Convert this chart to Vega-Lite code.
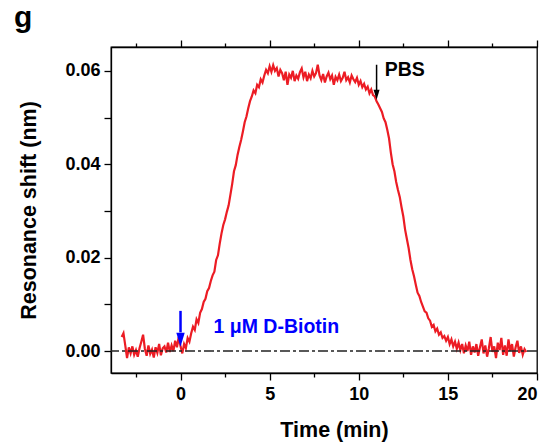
{
  "$schema": "https://vega.github.io/schema/vega-lite/v6.json",
  "width": 426,
  "height": 326,
  "autosize": {"type": "none"},
  "padding": {"left": 111, "top": 47, "right": 15, "bottom": 75},
  "title": {"text": "g", "anchor": "start", "frame": "group", "fontSize": 30, "fontWeight": "bold", "font": "Liberation Sans", "dx": -97, "dy": 18, "offset": 0, "baseline": "alphabetic", "color": "black"},
  "config": {
    "view": {"stroke": "black", "strokeWidth": 1.3},
    "axis": {
      "domainColor": "black", "domainWidth": 1.3, "tickColor": "black", "tickWidth": 1.3, "tickSize": 7,
      "labelFont": "Liberation Sans", "labelFontWeight": "bold", "labelFontSize": 18, "labelColor": "black",
      "titleFont": "Liberation Sans", "titleFontWeight": "bold", "titleFontSize": 21.5, "titleColor": "black",
      "grid": false, "labelOverlap": false
    }
  },
  "datasets": {
    "curve": [
      {"t":-3.3,"v":0.0030},{"t":-3.2,"v":0.0038},{"t":-3.1,"v":0.0012},{"t":-3.0,"v":-0.0015},{"t":-2.9,"v":0.0008},
      {"t":-2.8,"v":-0.0005},{"t":-2.7,"v":0.0010},{"t":-2.6,"v":-0.0008},{"t":-2.5,"v":0.0002},{"t":-2.4,"v":-0.0012},
      {"t":-2.3,"v":0.0006},{"t":-2.2,"v":0.0020},{"t":-2.1,"v":0.0035},{"t":-2.0,"v":0.0005},{"t":-1.9,"v":-0.0010},
      {"t":-1.8,"v":0.0012},{"t":-1.7,"v":-0.0006},{"t":-1.6,"v":0.0003},{"t":-1.5,"v":-0.0014},{"t":-1.4,"v":0.0008},
      {"t":-1.3,"v":-0.0004},{"t":-1.2,"v":0.0015},{"t":-1.1,"v":-0.0009},{"t":-1.0,"v":0.0006},{"t":-0.9,"v":0.0010},
      {"t":-0.8,"v":-0.0003},{"t":-0.7,"v":0.0018},{"t":-0.6,"v":-0.0002},{"t":-0.5,"v":0.0012},{"t":-0.4,"v":0.0000},
      {"t":-0.3,"v":0.0022},{"t":-0.2,"v":0.0008},{"t":-0.1,"v":0.0030},{"t":0.0,"v":0.0010},{"t":0.1,"v":-0.0005},
      {"t":0.2,"v":0.0015},{"t":0.3,"v":0.0006},{"t":0.4,"v":0.0028},{"t":0.5,"v":0.0020},
      {"t":0.6,"v":0.0038},{"t":0.7,"v":0.0052},{"t":0.8,"v":0.0045},{"t":0.9,"v":0.0068},{"t":1.0,"v":0.0060},
      {"t":1.1,"v":0.0082},{"t":1.2,"v":0.0090},{"t":1.3,"v":0.0105},{"t":1.4,"v":0.0112},{"t":1.5,"v":0.0128},
      {"t":1.6,"v":0.0135},{"t":1.7,"v":0.0150},{"t":1.8,"v":0.0162},{"t":1.9,"v":0.0170},{"t":2.0,"v":0.0195},
      {"t":2.1,"v":0.0205},{"t":2.2,"v":0.0230},{"t":2.3,"v":0.0252},{"t":2.4,"v":0.0270},{"t":2.5,"v":0.0282},
      {"t":2.6,"v":0.0298},{"t":2.7,"v":0.0312},{"t":2.8,"v":0.0335},{"t":2.9,"v":0.0358},{"t":3.0,"v":0.0385},
      {"t":3.1,"v":0.0398},{"t":3.2,"v":0.0420},{"t":3.3,"v":0.0437},{"t":3.4,"v":0.0452},{"t":3.5,"v":0.0470},
      {"t":3.6,"v":0.0490},{"t":3.7,"v":0.0502},{"t":3.8,"v":0.0520},{"t":3.9,"v":0.0535},{"t":4.0,"v":0.0545},
      {"t":4.1,"v":0.0558},{"t":4.2,"v":0.0552},{"t":4.3,"v":0.0570},{"t":4.4,"v":0.0565},{"t":4.5,"v":0.0582},
      {"t":4.6,"v":0.0575},{"t":4.7,"v":0.0590},{"t":4.8,"v":0.0602},{"t":4.9,"v":0.0595},
      {"t":5.0,"v":0.0610},{"t":5.1,"v":0.0598},{"t":5.2,"v":0.0612},{"t":5.3,"v":0.0600},{"t":5.4,"v":0.0606},
      {"t":5.5,"v":0.0588},{"t":5.6,"v":0.0602},{"t":5.7,"v":0.0595},{"t":5.8,"v":0.0580},{"t":5.9,"v":0.0598},
      {"t":6.0,"v":0.0570},{"t":6.1,"v":0.0592},{"t":6.2,"v":0.0585},{"t":6.3,"v":0.0600},{"t":6.4,"v":0.0578},
      {"t":6.5,"v":0.0590},{"t":6.6,"v":0.0583},{"t":6.7,"v":0.0597},{"t":6.8,"v":0.0605},{"t":6.9,"v":0.0586},
      {"t":7.0,"v":0.0598},{"t":7.1,"v":0.0578},{"t":7.2,"v":0.0592},{"t":7.3,"v":0.0584},{"t":7.4,"v":0.0600},
      {"t":7.5,"v":0.0588},{"t":7.6,"v":0.0595},{"t":7.7,"v":0.0613},{"t":7.8,"v":0.0590},{"t":7.9,"v":0.0580},
      {"t":8.0,"v":0.0593},{"t":8.1,"v":0.0575},{"t":8.2,"v":0.0588},{"t":8.3,"v":0.0596},{"t":8.4,"v":0.0582},
      {"t":8.5,"v":0.0590},{"t":8.6,"v":0.0570},{"t":8.7,"v":0.0587},{"t":8.8,"v":0.0580},{"t":8.9,"v":0.0592},
      {"t":9.0,"v":0.0578},{"t":9.1,"v":0.0585},{"t":9.2,"v":0.0598},{"t":9.3,"v":0.0580},{"t":9.4,"v":0.0586},
      {"t":9.5,"v":0.0575},{"t":9.6,"v":0.0590},{"t":9.7,"v":0.0582},{"t":9.8,"v":0.0576},{"t":9.9,"v":0.0585},
      {"t":10.0,"v":0.0570},{"t":10.1,"v":0.0578},{"t":10.2,"v":0.0565},{"t":10.3,"v":0.0572},{"t":10.4,"v":0.0560},
      {"t":10.5,"v":0.0566},{"t":10.6,"v":0.0552},{"t":10.7,"v":0.0560},{"t":10.8,"v":0.0548},{"t":10.9,"v":0.0545},
      {"t":11.0,"v":0.0535},{"t":11.1,"v":0.0528},{"t":11.2,"v":0.0520},{"t":11.3,"v":0.0512},{"t":11.4,"v":0.0498},
      {"t":11.5,"v":0.0490},{"t":11.6,"v":0.0474},{"t":11.7,"v":0.0455},{"t":11.8,"v":0.0425},{"t":11.9,"v":0.0400},
      {"t":12.0,"v":0.0385},{"t":12.1,"v":0.0362},{"t":12.2,"v":0.0345},{"t":12.3,"v":0.0330},{"t":12.4,"v":0.0308},
      {"t":12.5,"v":0.0288},{"t":12.6,"v":0.0260},{"t":12.7,"v":0.0240},{"t":12.8,"v":0.0220},{"t":12.9,"v":0.0195},
      {"t":13.0,"v":0.0175},{"t":13.1,"v":0.0160},{"t":13.2,"v":0.0142},{"t":13.3,"v":0.0125},{"t":13.4,"v":0.0118},
      {"t":13.5,"v":0.0105},{"t":13.6,"v":0.0095},{"t":13.7,"v":0.0085},{"t":13.8,"v":0.0082},{"t":13.9,"v":0.0070},
      {"t":14.0,"v":0.0065},{"t":14.1,"v":0.0052},{"t":14.2,"v":0.0056},{"t":14.3,"v":0.0042},{"t":14.4,"v":0.0048},
      {"t":14.5,"v":0.0035},{"t":14.6,"v":0.0040},{"t":14.7,"v":0.0028},{"t":14.8,"v":0.0032},{"t":14.9,"v":0.0022},
      {"t":15.0,"v":0.0030},{"t":15.1,"v":0.0015},{"t":15.2,"v":0.0025},{"t":15.3,"v":0.0010},{"t":15.4,"v":0.0020},
      {"t":15.5,"v":0.0005},{"t":15.6,"v":0.0018},{"t":15.7,"v":0.0002},{"t":15.8,"v":0.0015},{"t":15.9,"v":-0.0005},
      {"t":16.0,"v":0.0012},{"t":16.1,"v":0.0000},{"t":16.2,"v":0.0020},{"t":16.3,"v":-0.0008},{"t":16.4,"v":0.0010},
      {"t":16.5,"v":-0.0003},{"t":16.6,"v":0.0015},{"t":16.7,"v":-0.0010},{"t":16.8,"v":0.0008},{"t":16.9,"v":0.0025},
      {"t":17.0,"v":-0.0005},{"t":17.1,"v":0.0012},{"t":17.2,"v":-0.0012},{"t":17.3,"v":0.0006},{"t":17.4,"v":0.0030},
      {"t":17.5,"v":-0.0002},{"t":17.6,"v":0.0010},{"t":17.7,"v":-0.0015},{"t":17.8,"v":0.0018},{"t":17.9,"v":0.0002},
      {"t":18.0,"v":0.0028},{"t":18.1,"v":-0.0008},{"t":18.2,"v":0.0012},{"t":18.3,"v":-0.0010},{"t":18.4,"v":0.0025},
      {"t":18.5,"v":0.0000},{"t":18.6,"v":0.0015},{"t":18.7,"v":-0.0012},{"t":18.8,"v":0.0008},{"t":18.9,"v":0.0022},
      {"t":19.0,"v":-0.0004},{"t":19.1,"v":0.0010},{"t":19.2,"v":-0.0008},{"t":19.3,"v":0.0004},{"t":19.4,"v":-0.0002}
    ]
  },
  "resolve": {"axis": {"x": "independent"}},
  "layer": [
    {
      "data": {"name": "curve"},
      "mark": {"type": "line", "color": "#ec1c24", "strokeWidth": 2.2, "clip": true},
      "encoding": {
        "x": {"field": "t", "type": "quantitative", "scale": {"domain": [-3.9, 20], "nice": false, "zero": false},
          "axis": {"orient": "bottom", "title": "Time (min)", "values": [0, 5, 10, 15, 20], "tickSize": 7,
            "labelPadding": 5, "titlePadding": 16, "titleX": 223}},
        "y": {"field": "v", "type": "quantitative", "scale": {"domain": [-0.0047, 0.0651], "nice": false, "zero": false},
          "axis": {"title": "Resonance shift (nm)", "values": [0, 0.01, 0.02, 0.03, 0.04, 0.05, 0.06],
            "format": ".2f",
            "labelExpr": "abs(datum.value*50 - round(datum.value*50)) < 0.01 ? datum.label : ''",
            "encode": {"ticks": {"update": {"x2": {"signal": "abs(datum.value*50 - round(datum.value*50)) < 0.01 ? -7 : -4"}}}},
            "labelPadding": 4, "titlePadding": 24}}
      }
    },
    {
      "data": {"values": [{"v": 0}]},
      "mark": {"type": "rule", "color": "#222222", "strokeWidth": 1.4, "strokeDash": [10, 3, 3, 3]},
      "encoding": {"y": {"field": "v", "type": "quantitative"}}
    },
    {
      "data": {"values": [{"t": 0, "v": 0.0086, "v2": 0.0040}]},
      "mark": {"type": "rule", "color": "#0000ff", "strokeWidth": 2.5},
      "encoding": {
        "x": {"field": "t", "type": "quantitative",
          "axis": {"orient": "top", "title": null, "labels": false, "tickSize": 7, "values": [0, 5, 10, 15, 20]}},
        "y": {"field": "v", "type": "quantitative"},
        "y2": {"field": "v2"}
      }
    },
    {
      "data": {"values": [{"t": 0, "v": 0.0024}]},
      "mark": {"type": "point", "shape": "M-0.6,-1L0.6,-1L0,1Z", "size": 196, "filled": true, "color": "#0000ff", "opacity": 1},
      "encoding": {
        "x": {"field": "t", "type": "quantitative",
          "axis": {"orient": "top", "title": null, "labels": false, "domain": false, "tickSize": 4, "values": [-2.5, 2.5, 7.5, 12.5, 17.5]}},
        "y": {"field": "v", "type": "quantitative"}
      }
    },
    {
      "data": {"values": [{"t": 11.0, "v": 0.0613, "v2": 0.0552}]},
      "mark": {"type": "rule", "color": "black", "strokeWidth": 1.5},
      "encoding": {
        "x": {"field": "t", "type": "quantitative",
          "axis": {"orient": "bottom", "title": null, "labels": false, "domain": false, "tickSize": 4, "values": [-2.5, 2.5, 7.5, 12.5, 17.5]}},
        "y": {"field": "v", "type": "quantitative"},
        "y2": {"field": "v2"}
      }
    },
    {
      "data": {"values": [{"t": 11.0, "v": 0.0549}]},
      "mark": {"type": "point", "shape": "M-0.6,-1L0.6,-1L0,1Z", "size": 100, "filled": true, "color": "black", "opacity": 1},
      "encoding": {
        "x": {"field": "t", "type": "quantitative", "axis": null},
        "y": {"field": "v", "type": "quantitative"}
      }
    },
    {
      "data": {"values": [{"t": 1.85, "v": 0.0051, "label": "1 μM D-Biotin"}]},
      "mark": {"type": "text", "align": "left", "baseline": "middle", "font": "Liberation Sans", "fontWeight": "bold", "fontSize": 19.5, "color": "#0000ff"},
      "encoding": {
        "x": {"field": "t", "type": "quantitative", "axis": null},
        "y": {"field": "v", "type": "quantitative"},
        "text": {"field": "label"}
      }
    },
    {
      "data": {"values": [{"t": 11.46, "v": 0.0601, "label": "PBS"}]},
      "mark": {"type": "text", "align": "left", "baseline": "middle", "font": "Liberation Sans", "fontWeight": "bold", "fontSize": 19.5, "color": "black"},
      "encoding": {
        "x": {"field": "t", "type": "quantitative", "axis": null},
        "y": {"field": "v", "type": "quantitative"},
        "text": {"field": "label"}
      }
    }
  ]
}
